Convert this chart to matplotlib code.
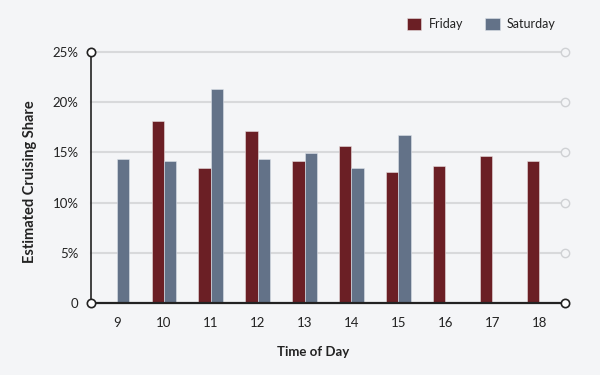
import numpy as np
import matplotlib.pyplot as plt

plt.rcParams['font.family'] = ['Lato', 'DejaVu Sans']

# data (share in %)
hours = ['9', '10', '11', '12', '13', '14', '15', '16', '17', '18']
friday = [np.nan, 18.1, 13.4, 17.1, 14.1, 15.67, 13.0, 13.67, 14.6, 14.13]
saturday = [14.33, 14.1, 21.34, 14.33, 14.93, 13.4, 16.73, np.nan, np.nan, np.nan]
yticks = [0, 5, 10, 15, 20, 25]
ylabels = ['0', '5%', '10%', '15%', '20%', '25%']

bg = '#f4f5f7'
fri_col = '#6b1f25'
sat_col = '#637288'
dark = '#222222'
grid_col = '#d8d9db'

fig = plt.figure(figsize=(6, 3.75), dpi=100, facecolor=bg)
ax = fig.add_axes([0.1517, 0.192, 0.79, 0.6693], facecolor=bg)

x = np.arange(len(hours))
w = 0.26
ax.bar(x - w / 2, friday, w, color=fri_col, label='Friday', zorder=3,
       edgecolor='#e8e0e0', linewidth=0.4)
ax.bar(x + w / 2, saturday, w, color=sat_col, label='Saturday', zorder=3,
       edgecolor='#dde2ea', linewidth=0.4)

xmin, xmax = -0.55, 9.55
ax.set_xlim(xmin, xmax)
ax.set_ylim(0, 25)

# gridlines with hollow circle at the right end
for v in yticks[1:]:
    ax.plot([xmin, xmax], [v, v], color=grid_col, lw=1.5, zorder=1, clip_on=False)
    ax.plot([xmax], [v], marker='o', ms=6, mfc=bg, mec='#cfd1d4', mew=1.0,
            zorder=4, clip_on=False)

# axis lines with hollow circles
ax.plot([xmin, xmin], [0, 25], color=dark, lw=1.2, zorder=4, clip_on=False)
ax.plot([xmin, xmax], [0, 0], color=dark, lw=1.6, zorder=4, clip_on=False)
ax.plot([xmin, xmin, xmax], [25, 0, 0], ls='none', marker='o', ms=6, mfc='white',
        mec=dark, mew=1.2, zorder=5, clip_on=False)

for s in ax.spines.values():
    s.set_visible(False)

ax.set_xticks(x)
ax.set_xticklabels(hours)
ax.set_yticks(yticks)
ax.set_yticklabels(ylabels)
ax.tick_params(length=0, labelsize=9.5, colors=dark)
ax.tick_params(axis='x', pad=10)
ax.tick_params(axis='y', pad=9)

ax.set_xlabel('Time of Day', fontsize=9.5, fontweight='bold', color=dark, labelpad=13)
ax.xaxis.set_label_coords(0.468, -0.17)
ax.set_ylabel('Estimated Cruising Share', fontsize=10.5, fontweight='bold', color=dark)
ax.yaxis.set_label_coords(-0.113, 0.484)

fig.legend(loc='center left', bbox_to_anchor=(407 / 600, 1 - 24 / 375), ncol=2,
           frameon=False, fontsize=9, handlelength=1.15, handleheight=1.15,
           columnspacing=1.8, handletextpad=0.56, borderpad=0, borderaxespad=0,
           labelcolor=dark)

fig.savefig('out.png', dpi=100, facecolor=bg)
